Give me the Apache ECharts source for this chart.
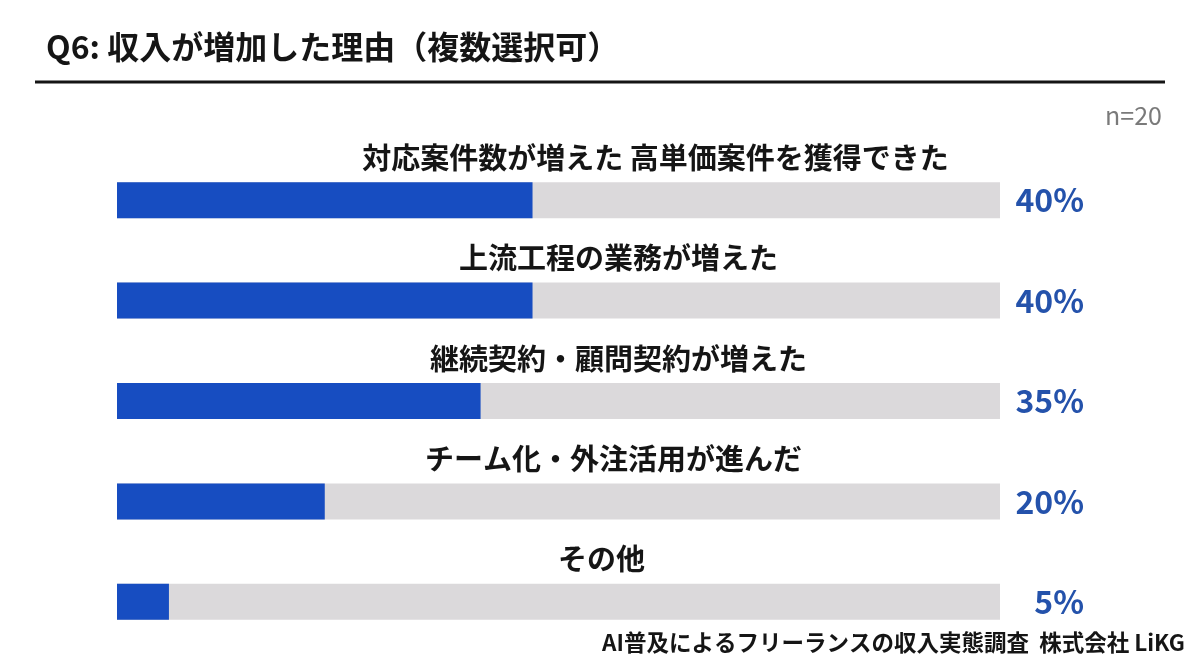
<!DOCTYPE html>
<html>
<head>
<meta charset="utf-8">
<script src="https://cdn.jsdelivr.net/npm/echarts@6/dist/echarts.min.js"></script>
<style>
  html, body { margin: 0; padding: 0; background: #fff; }
  #chart { width: 1200px; height: 670px; }
</style>
</head>
<body>
<div id="chart"></div>
<script>
// 回答項目
const categories = [
  "対応案件数が増えた 高単価案件を獲得できた",
  "上流工程の業務が増えた",
  "継続契約・顧問契約が増えた",
  "チーム化・外注活用が進んだ",
  "その他"
];
// 回答割合 (%)
const values = [40, 40, 35, 20, 5];
const percentLabels = values.map(v => v + "%");

const font = '"Noto Sans CJK JP", "Noto Sans", sans-serif';
const axisMax = 85;
// ラベルを少し右へずらす
const labelShift = [97, 60, 60, 55, 43];

const chart = echarts.init(document.getElementById("chart"));

chart.setOption({
  animation: false,
  textStyle: { fontFamily: font },
  title: [
    {
      text: "Q6: 収入が増加した理由（複数選択可）",
      left: 41,
      top: 26,
      textStyle: { fontSize: 32, fontWeight: "bold", color: "#151515", fontFamily: font }
    },
    {
      text: "n=20",
      right: 33,
      top: 98,
      textStyle: { fontSize: 25, fontWeight: "normal", color: "#7a7a7a", fontFamily: font }
    },
    {
      text: "AI普及によるフリーランスの収入実態調査  株式会社 LiKG",
      right: 10,
      top: 626,
      textStyle: { fontSize: 22.5, fontWeight: "bold", color: "#151515", fontFamily: font }
    }
  ],
  graphic: [
    {
      type: "line",
      shape: { x1: 35, y1: 82, x2: 1165, y2: 82 },
      style: { stroke: "#151515", lineWidth: 3 }
    }
  ],
  grid: { left: 117, right: 200, top: 150, bottom: 18 },
  xAxis: {
    type: "value",
    min: 0,
    max: axisMax,
    show: false
  },
  yAxis: [
    {
      type: "category",
      data: categories,
      inverse: true,
      axisLine: { show: false },
      axisTick: { show: false },
      axisLabel: { show: false }
    },
    {
      type: "category",
      data: percentLabels,
      inverse: true,
      position: "right",
      axisLine: { show: false },
      axisTick: { show: false },
      axisLabel: {
        align: "right",
        margin: 84,
        fontSize: 32,
        fontWeight: "bold",
        color: "#2452ab",
        fontFamily: font,
        padding: [10, 0, 0, 0]
      }
    }
  ],
  series: [
    {
      // 背景トラック
      type: "bar",
      barWidth: 36,
      barGap: "-100%",
      silent: true,
      itemStyle: { color: "#dbd9db" },
      data: categories.map((c, i) => ({
        value: axisMax,
        label: { offset: [labelShift[i], 0] }
      })),
      label: {
        show: true,
        position: "top",
        distance: 10,
        formatter: p => categories[p.dataIndex],
        fontSize: 29,
        fontWeight: "bold",
        color: "#151515",
        fontFamily: font
      }
    },
    {
      type: "bar",
      barWidth: 36,
      barGap: "-100%",
      itemStyle: { color: "#174dc1" },
      data: values
    }
  ]
});
</script>
</body>
</html>
